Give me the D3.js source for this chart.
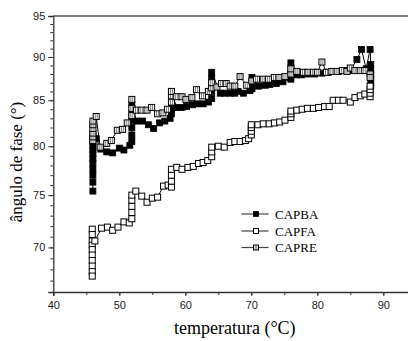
<!DOCTYPE html>
<html><head><meta charset="utf-8">
<script src="https://cdn.jsdelivr.net/npm/d3@7"></script>
<style>body{margin:0;background:#fff}svg{display:block}</style>
</head><body>
<script>
// ---- data ----
const seriesNames = ["CAPBA", "CAPFA", "CAPRE"];
const capbaX = [46.0,46.0,46.0,46.0,46.0,46.0,46.0,46.0,46.0,46.0,46.0,46.0,46.5,47.2,48.1,49.0,50.0,50.7,51.6,51.9,51.9,51.9,51.9,51.9,51.9,52.6,53.5,54.4,55.2,56.1,56.9,57.7,57.9,57.9,57.9,57.9,58.7,59.5,60.2,61.1,61.8,62.7,63.5,64.0,64.0,64.0,64.0,64.0,65.3,66.0,66.8,67.5,68.0,68.8,69.8,70.1,70.1,70.1,71.1,72.1,72.8,73.8,74.8,76.0,76.0,76.0,76.0,76.9,77.6,78.6,79.6,80.7,81.7,82.4,83.2,84.2,85.0,86.0,86.7,87.4,88.0,88.1,88.1,88.1,88.1,88.1,88.1];
const capbaY = [75.4,76.3,77.0,77.6,78.2,78.7,79.2,79.6,80.0,80.4,80.8,81.2,80.8,79.7,79.4,79.3,79.8,79.6,80.1,80.5,81.2,82.0,82.8,83.6,84.5,82.7,82.7,82.3,81.9,82.5,82.7,83.0,83.5,84.2,85.0,85.9,84.2,84.2,84.3,84.5,84.6,84.6,84.8,85.2,86.0,86.8,87.5,88.2,85.8,85.8,85.8,85.8,86.0,85.8,86.1,86.3,87.0,87.6,86.6,86.7,86.8,86.9,87.1,87.4,88.0,88.7,89.3,87.9,87.9,88.0,88.0,88.1,88.2,88.3,88.3,88.4,88.4,89.7,90.9,88.6,90.9,89.1,88.4,88.0,87.6,87.0,86.6];
const capfaX = [45.9,45.9,45.9,45.9,45.9,45.9,45.9,45.9,45.9,45.9,46.3,47.3,48.2,49.0,49.8,50.7,51.5,51.9,51.9,51.9,51.9,51.9,52.5,53.4,54.2,55.0,55.8,56.7,57.4,57.9,57.9,57.9,57.9,58.7,59.5,60.4,61.2,62.0,62.7,63.4,64.0,64.0,64.0,65.0,65.9,66.8,67.5,68.3,69.1,69.6,70.0,70.0,70.0,70.0,71.0,71.8,72.7,73.5,74.3,75.1,76.0,76.0,76.0,76.9,77.7,78.5,79.4,80.2,81.1,81.8,82.4,83.2,83.9,85.0,85.7,86.5,87.2,88.0,88.0,88.0,88.0];
const capfaY = [71.7,71.2,70.6,70.2,69.8,69.3,68.8,68.3,67.8,67.4,70.6,71.8,71.9,71.6,71.9,72.4,72.3,72.7,73.3,73.9,74.5,75.0,75.4,74.9,74.3,74.7,74.8,75.9,76.0,75.8,76.4,77.0,77.6,77.8,77.6,77.8,77.9,78.2,78.3,78.5,78.9,79.4,79.9,80.0,79.9,80.4,80.5,80.5,80.6,80.8,81.2,81.6,82.0,82.3,82.3,82.4,82.4,82.5,82.6,82.8,83.1,83.5,83.8,83.9,84.0,84.1,84.1,84.2,84.3,84.3,85.0,85.0,85.0,84.8,85.3,85.5,85.7,85.4,85.8,86.2,86.6];
const capreX = [46.0,46.0,46.0,46.0,46.0,46.0,46.5,47.1,48.1,48.8,49.7,50.5,51.2,51.9,51.9,51.9,52.6,53.4,54.2,54.9,55.8,56.6,57.3,57.9,57.9,57.9,58.7,59.5,60.1,61.0,61.7,62.6,63.5,64.0,64.0,64.8,65.5,66.2,66.8,67.5,68.3,69.3,70.1,70.8,71.8,72.6,73.5,74.2,75.1,76.0,76.0,76.9,77.9,78.6,79.4,80.0,80.7,81.4,82.2,83.0,83.8,84.5,85.0,85.7,86.5,87.2,88.0,88.0];
const capreY = [80.6,81.0,81.4,81.9,82.3,82.7,83.2,79.9,80.3,80.6,81.7,81.8,82.5,83.3,84.1,85.1,83.9,83.9,83.9,84.2,83.5,83.6,84.0,84.8,85.5,86.0,85.4,85.4,85.1,85.3,86.2,85.5,86.0,86.4,87.0,86.5,86.9,86.9,86.6,86.6,87.7,86.7,87.2,87.4,87.4,87.4,87.6,87.6,87.7,88.0,88.6,88.3,88.2,88.2,88.2,88.2,89.4,88.2,88.3,88.3,88.4,88.3,88.7,88.4,88.4,88.4,88.0,87.6];
const xTicks = [40, 50, 60, 70, 80, 90];
const yTicks = [70, 75, 80, 85, 90, 95];
const xLabel = "temperatura (°C)";
const yLabel = "ângulo de fase (°)";

// ---- layout ----
const W = 408, H = 341;
const m = {left: 53.3, top: 16, bottom: 292, right: 416.3};
const x = d3.scaleLinear().domain([40, 95]).range([m.left, m.right]);
const y = d3.scaleLog().domain([66, 95]).range([m.bottom, m.top]);

const svg = d3.select("body").append("svg").attr("width", W).attr("height", H);
const axisColor = "#333";

// frame (top line)
svg.append("line").attr("x1", m.left).attr("x2", m.right).attr("y1", m.top).attr("y2", m.top)
  .attr("stroke", "#555").attr("stroke-width", 1.3);

// x axis
const xMinor = d3.range(40, 95.01, 5);
const gx = svg.append("g").attr("transform", `translate(0,${m.bottom})`);
gx.call(d3.axisBottom(x).tickValues(xMinor).tickSize(3).tickFormat(""));
gx.call(g => g.select(".domain").remove());
const gx2 = svg.append("g").attr("transform", `translate(0,${m.bottom})`);
gx2.call(d3.axisBottom(x).tickValues(xTicks).tickSize(4).tickPadding(5).tickFormat(d3.format("d")));
gx2.selectAll("text").attr("font-family", "Liberation Sans, Arial, sans-serif").attr("font-size", 11).attr("fill", "#222");
[gx, gx2].forEach(g => g.selectAll("line").attr("stroke", axisColor));
gx2.select(".domain").attr("stroke", axisColor).attr("stroke-width", 1.3);

// y axis
const yMinor = d3.range(66, 95.01, 1);
const gy = svg.append("g").attr("transform", `translate(${m.left},0)`);
gy.call(d3.axisLeft(y).tickValues(yMinor).tickSize(3).tickFormat(""));
gy.call(g => g.select(".domain").remove());
const gy2 = svg.append("g").attr("transform", `translate(${m.left},0)`);
gy2.call(d3.axisLeft(y).tickValues(yTicks).tickSize(5).tickPadding(3).tickFormat(d3.format("d")));
gy2.selectAll("text").attr("font-family", "Liberation Sans, Arial, sans-serif").attr("font-size", 11).attr("fill", "#222");
[gy, gy2].forEach(g => g.selectAll("line").attr("stroke", axisColor));
gy2.select(".domain").attr("stroke", axisColor).attr("stroke-width", 1.3);

// labels
svg.append("text").attr("x", x(67.5)).attr("y", 334).attr("text-anchor", "middle")
  .attr("font-family", "Liberation Serif, Times New Roman, serif").attr("font-size", 18).text(xLabel);
svg.append("text").attr("transform", `translate(22,${(m.top + m.bottom) / 2 + 8}) rotate(-90)`)
  .attr("text-anchor", "middle")
  .attr("font-family", "Liberation Serif, Times New Roman, serif").attr("font-size", 17).text(yLabel);

// markers
function drawMarker(g, kind, cx, cy, s) {
  const h = s / 2;
  if (kind === "CAPBA") {
    g.append("rect").attr("x", cx - h).attr("y", cy - h).attr("width", s).attr("height", s)
      .attr("fill", "#000").attr("stroke", "#000").attr("stroke-width", 0.8);
  } else if (kind === "CAPFA") {
    g.append("rect").attr("x", cx - h).attr("y", cy - h).attr("width", s).attr("height", s)
      .attr("fill", "#fff").attr("stroke", "#000").attr("stroke-width", 1);
  } else {
    g.append("rect").attr("x", cx - h).attr("y", cy - h).attr("width", s).attr("height", s)
      .attr("fill", "#fff").attr("stroke", "#000").attr("stroke-width", 1);
    g.append("path").attr("d", `M${cx - h / 3},${cy - h}V${cy + h}M${cx + h / 3},${cy - h}V${cy + h}`)
      .attr("stroke", "#222").attr("stroke-width", 0.6).attr("fill", "none");
  }
}

const data = {
  CAPBA: d3.zip(capbaX, capbaY),
  CAPFA: d3.zip(capfaX, capfaY),
  CAPRE: d3.zip(capreX, capreY)
};
const line = d3.line().x(d => x(d[0])).y(d => y(d[1]));
const plot = svg.append("g");
["CAPBA", "CAPFA", "CAPRE"].forEach(name => {
  const g = plot.append("g");
  g.append("path").datum(data[name]).attr("d", line).attr("fill", "none")
    .attr("stroke", "#000").attr("stroke-width", 1);
  data[name].forEach(d => drawMarker(g, name, x(d[0]), y(d[1]), 6));
});

// legend
const legY = [214, 231, 247.5];
seriesNames.forEach((name, i) => {
  const g = svg.append("g");
  const ly = legY[i];
  g.append("line").attr("x1", 241.5).attr("x2", 268.5).attr("y1", ly).attr("y2", ly)
    .attr("stroke", "#444").attr("stroke-width", 1.2);
  drawMarker(g, name, 256, ly, 5);
  g.append("text").attr("x", 275).attr("y", ly + 4.5)
    .attr("font-family", "Liberation Serif, Times New Roman, serif").attr("font-size", 13).text(name);
});
</script>
</body></html>
